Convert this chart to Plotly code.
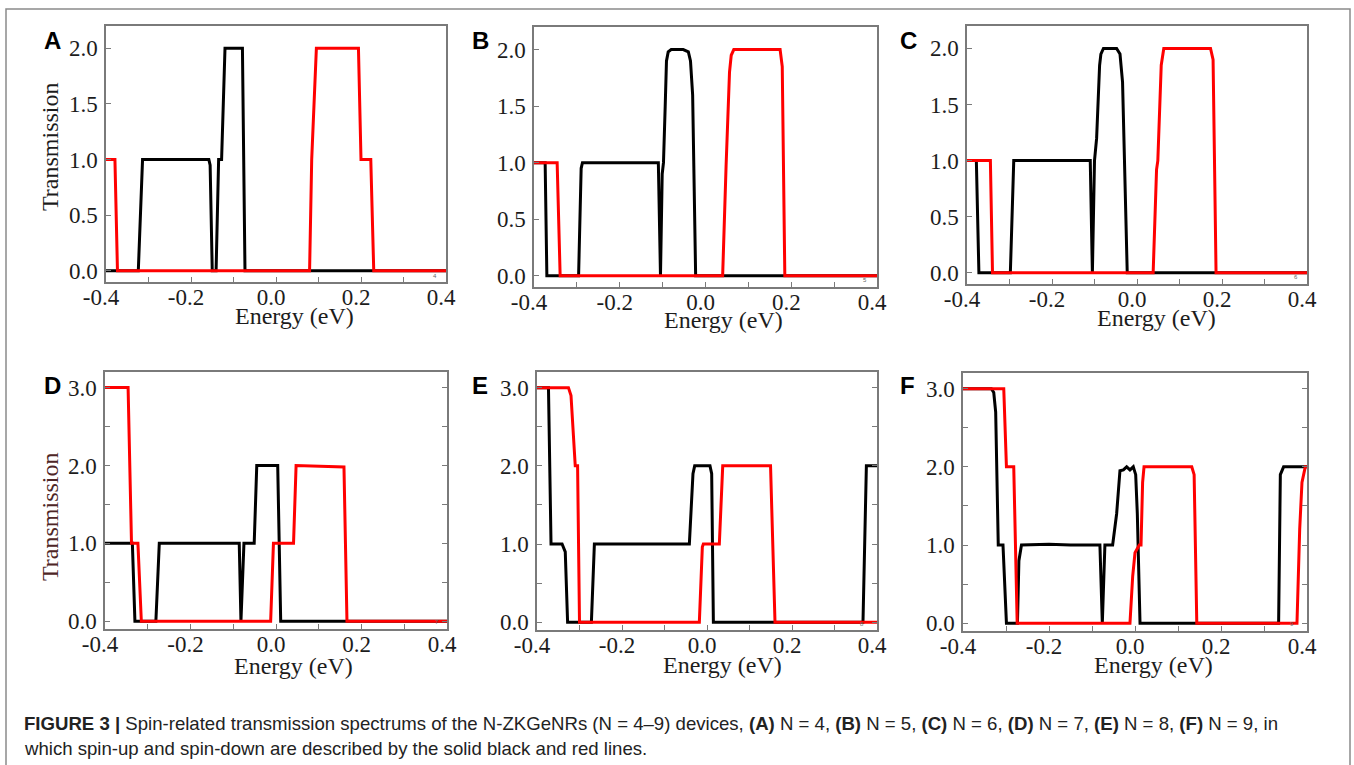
import plotly.graph_objects as go

# ---------------- data: energy (eV) and transmission for each device ----------------
# (A) N = 4
e_up_4 = [-0.40, -0.324, -0.314, -0.158, -0.155, -0.150, -0.141, -0.135, -0.128, -0.120, -0.079, -0.073, 0.40]
t_up_4 = [0, 0, 1.0, 1.0, 0.95, 0, 0, 1.0, 1.0, 2.0, 2.0, 0, 0]
e_dn_4 = [-0.40, -0.379, -0.373, 0.079, 0.084, 0.095, 0.194, 0.200, 0.223, 0.230, 0.40]
t_dn_4 = [1.0, 1.0, 0, 0, 1.0, 2.0, 2.0, 1.0, 1.0, 0, 0]

# (B) N = 5
e_up_5 = [-0.40, -0.374, -0.370, -0.296, -0.290, -0.287, -0.110, -0.105, -0.101, -0.098, -0.094, -0.091, -0.087, -0.080,
          -0.052, -0.040, -0.035, -0.030, -0.023, 0.40]
t_up_5 = [1.0, 1.0, 0, 0, 0.95, 1.0, 1.0, 0, 0.9, 1.0, 1.5, 1.9, 1.98, 2.0,
          2.0, 1.98, 1.9, 1.6, 0, 0]
e_dn_5 = [-0.40, -0.346, -0.339, 0.040, 0.048, 0.056, 0.060, 0.066, 0.174, 0.179, 0.185, 0.40]
t_dn_5 = [1.0, 1.0, 0, 0, 0.97, 1.8, 1.95, 2.0, 2.0, 1.85, 0, 0]

# (C) N = 6
e_up_6 = [-0.40, -0.378, -0.372, -0.298, -0.290, -0.110, -0.105, -0.100, -0.095, -0.088, -0.085, -0.079,
          -0.048, -0.040, -0.034, -0.023, 0.40]
t_up_6 = [1.0, 1.0, 0, 0, 1.0, 1.0, 0, 1.0, 1.2, 1.85, 1.95, 2.0,
          2.0, 1.95, 1.7, 0, 0]
e_dn_6 = [-0.40, -0.345, -0.340, 0.038, 0.046, 0.049, 0.057, 0.063, 0.173, 0.179, 0.186, 0.40]
t_dn_6 = [1.0, 1.0, 0, 0, 0.92, 1.0, 1.85, 2.0, 2.0, 1.9, 0, 0]

# (D) N = 7
e_up_7 = [-0.40, -0.336, -0.330, -0.281, -0.273, -0.086, -0.082, -0.075, -0.051, -0.045, 0.004, 0.011, 0.40]
t_up_7 = [1.0, 1.0, 0, 0, 1.0, 1.0, 0, 1.0, 1.0, 2.0, 2.0, 0, 0]
e_dn_7 = [-0.40, -0.346, -0.338, -0.323, -0.315, -0.0125, -0.006, 0.041, 0.047, 0.159, 0.166, 0.40]
t_dn_7 = [3.0, 3.0, 1.0, 1.0, 0, 0, 1.0, 1.0, 2.0, 1.98, 0, 0]

# (E) N = 8
e_up_8 = [-0.40, -0.373, -0.367, -0.341, -0.3335, -0.328, -0.272, -0.265, -0.0415, -0.033, -0.029, 0.007, 0.011, 0.015,
          0.367, 0.375, 0.40]
t_up_8 = [3.0, 3.0, 1.0, 1.0, 0.9, 0, 0, 1.0, 1.0, 1.9, 2.0, 2.0, 1.9, 0,
          0, 2.0, 2.0]
e_dn_8 = [-0.40, -0.326, -0.320, -0.314, -0.310, -0.3045, -0.300, -0.018, -0.011, -0.0086, 0.029, 0.037, 0.1495,
          0.160, 0.40]
t_dn_8 = [3.0, 3.0, 2.9, 2.3, 2.0, 2.0, 0, 0, 0.96, 1.0, 1.0, 2.0, 2.0,
          0, 0]

# (F) N = 9
e_up_9 = [-0.40, -0.334, -0.3285, -0.324, -0.318, -0.307, -0.299, -0.2734, -0.270, -0.264, -0.200, -0.150,
          -0.0816, -0.076, -0.070, -0.052, -0.0427, -0.035, -0.027, -0.0194, -0.0117, -0.004, 0.0016, 0.0054,
          0.0117, 0.334, 0.338, 0.3456, 0.40]
t_up_9 = [3.0, 3.0, 2.95, 2.7, 1.0, 1.0, 0, 0, 0.8, 1.0, 1.01, 1.0,
          1.0, 0, 1.0, 1.0, 1.4, 1.95, 1.96, 2.0, 1.96, 2.0, 1.9, 1.4,
          0, 0, 1.9, 2.0, 2.0]
e_dn_9 = [-0.40, -0.3052, -0.299, -0.282, -0.274, -0.0117, -0.0054, 0.0, 0.010, 0.014, 0.0177, 0.021, 0.132,
          0.1375, 0.1437, 0.3767, 0.383, 0.3883, 0.396, 0.40]
t_dn_9 = [3.0, 3.0, 2.0, 2.0, 0, 0, 0.6, 0.9, 1.0, 1.0, 1.8, 2.0, 2.0,
          1.9, 0, 0, 1.2, 1.8, 2.0, 2.0]

panel_letters = ["A", "B", "C", "D", "E", "F"]
panel_marks = ["4", "5", "6", "7", "8", "9"]
x_ticks = [-0.4, -0.2, 0.0, 0.2, 0.4]
x_tick_text = ["-0.4", "-0.2", "0.0", "0.2", "0.4"]
y_ticks_top = [0.0, 0.5, 1.0, 1.5, 2.0]
y_ticks_bottom = [0.0, 1.0, 2.0, 3.0]

series = [
    (e_up_4, t_up_4, e_dn_4, t_dn_4),
    (e_up_5, t_up_5, e_dn_5, t_dn_5),
    (e_up_6, t_up_6, e_dn_6, t_dn_6),
    (e_up_7, t_up_7, e_dn_7, t_dn_7),
    (e_up_8, t_up_8, e_dn_8, t_dn_8),
    (e_up_9, t_up_9, e_dn_9, t_dn_9),
]

# ---------------- layout geometry (pixels on a 1354 x 765 canvas) ----------------
W, H = 1354, 765
boxes = [  # left, right, top, bottom of each plotting area
    (106, 446, 26, 282),
    (534, 877, 27, 287),
    (967, 1307, 26, 284),
    (105, 447, 372, 629),
    (537, 877, 372, 630),
    (963, 1307, 373, 631),
]
letter_pos = [(52, 40), (480, 40), (908, 40), (53, 385), (480, 385), (907, 385)]
xtitle_pos = [(294, 316), (723, 320), (1156, 318), (293, 666), (722, 665), (1153, 665)]
mark_pos = [(435, 276), (865, 280), (1296, 277), (437, 622), (862, 624), (1292, 624)]


def px(x):
    return x / W


def py(y):
    return 1 - y / H


AXIS_GREY = "#7a7a7a"
TEXT = "#1c1c1c"
SERIF = "Liberation Serif, Times New Roman, serif"
SANS = "Liberation Sans, Arial, sans-serif"

fig = go.Figure()
annotations = []

for i, (eu, tu, ed, td) in enumerate(series):
    n = i + 1
    xa = "x" if n == 1 else f"x{n}"
    ya = "y" if n == 1 else f"y{n}"
    fig.add_trace(go.Scatter(x=eu, y=tu, mode="lines", xaxis=xa, yaxis=ya,
                             line=dict(color="#000000", width=3), name="spin-up", showlegend=False))
    fig.add_trace(go.Scatter(x=ed, y=td, mode="lines", xaxis=xa, yaxis=ya,
                             line=dict(color="#ff0000", width=3), name="spin-down", showlegend=False))

    l, r, t, b = boxes[i]
    top_row = i < 3
    xkey = "xaxis" if n == 1 else f"xaxis{n}"
    ykey = "yaxis" if n == 1 else f"yaxis{n}"
    fig.layout[xkey] = dict(
        domain=[px(l), px(r)], anchor=ya, range=[-0.4, 0.4], automargin=False,
        tickmode="array", tickvals=x_ticks, ticktext=x_tick_text,
        ticks="inside", ticklen=5, tickwidth=1, tickcolor=AXIS_GREY,
        minor=dict(tickvals=[-0.3, -0.1, 0.1, 0.3], ticks="inside", ticklen=5, tickcolor=AXIS_GREY),
        showline=True, linecolor=AXIS_GREY, linewidth=1.5, mirror=True,
        showgrid=False, zeroline=False, ticklabelstandoff=-6, ticklabelshift=-5,
        tickfont=dict(family=SERIF, size=23, color=TEXT),
    )
    fig.layout[ykey] = dict(
        domain=[py(b), py(t)], anchor=xa, automargin=False,
        range=[-0.1, 2.2] if top_row else [-0.1, 3.2],
        tickmode="array",
        tickvals=y_ticks_top if top_row else y_ticks_bottom,
        ticktext=[f"{v:.1f}" for v in (y_ticks_top if top_row else y_ticks_bottom)],
        ticks="inside", ticklen=5, tickwidth=1, tickcolor=AXIS_GREY,
        minor=(dict(tickvals=[0.5, 1.5, 2.5], ticks="inside", ticklen=5, tickcolor=AXIS_GREY)
               if not top_row else None),
        showline=True, linecolor=AXIS_GREY, linewidth=1.5,
        mirror="ticks" if not top_row else True,
        showgrid=False, zeroline=False, ticklabelstandoff=2,
        tickfont=dict(family=SERIF, size=23, color=TEXT),
    )

    # panel letter
    lx, ly = letter_pos[i]
    annotations.append(dict(x=px(lx), y=py(ly), xref="paper", yref="paper", text=f"<b>{panel_letters[i]}</b>",
                            showarrow=False, xanchor="center", yanchor="middle",
                            font=dict(family=SANS, size=24, color="#000000")))
    # x-axis title
    tx, ty = xtitle_pos[i]
    annotations.append(dict(x=px(tx), y=py(ty), xref="paper", yref="paper", text="Energy (eV)",
                            showarrow=False, xanchor="center", yanchor="middle",
                            font=dict(family=SERIF, size=24, color=TEXT)))
    # small device index printed in the corner of each frame
    mx, my = mark_pos[i]
    annotations.append(dict(x=px(mx), y=py(my), xref="paper", yref="paper", text=panel_marks[i],
                            showarrow=False, xanchor="center", yanchor="middle",
                            font=dict(family=SANS, size=6, color="#666666")))

# y-axis titles (left column only)
annotations.append(dict(x=px(50), y=py(147), xref="paper", yref="paper", text="Transmission", textangle=-90,
                        showarrow=False, xanchor="center", yanchor="middle",
                        font=dict(family=SERIF, size=24, color=TEXT)))
annotations.append(dict(x=px(50), y=py(517), xref="paper", yref="paper", text="Transmission", textangle=-90,
                        showarrow=False, xanchor="center", yanchor="middle",
                        font=dict(family=SERIF, size=24, color="#4e2626")))

# caption
caption_1 = ("<b>FIGURE 3 |</b> Spin-related transmission spectrums of the N-ZKGeNRs (N = 4–9) devices, "
             "<b>(A)</b> N = 4, <b>(B)</b> N = 5, <b>(C)</b> N = 6, <b>(D)</b> N = 7, <b>(E)</b> N = 8, "
             "<b>(F)</b> N = 9, in")
caption_2 = "which spin-up and spin-down are described by the solid black and red lines."
annotations.append(dict(x=px(22), y=py(723), xref="paper", yref="paper", text=caption_1,
                        showarrow=False, xanchor="left", yanchor="middle",
                        font=dict(family=SANS, size=18.6, color="#222222")))
annotations.append(dict(x=px(22), y=py(748), xref="paper", yref="paper", text=caption_2,
                        showarrow=False, xanchor="left", yanchor="middle",
                        font=dict(family=SANS, size=18.6, color="#222222")))

# outer frame of the figure
shapes = [dict(type="rect", xref="paper", yref="paper", x0=px(6), x1=px(1350), y0=py(775), y1=py(9),
               line=dict(color="#8a8a8a", width=1.5), fillcolor="rgba(0,0,0,0)", layer="below")]

fig.update_layout(
    width=W, height=H, margin=dict(l=0, r=0, t=0, b=0, autoexpand=False),
    paper_bgcolor="white", plot_bgcolor="white",
    annotations=annotations, shapes=shapes, showlegend=False,
)

fig.write_html("out.html")
